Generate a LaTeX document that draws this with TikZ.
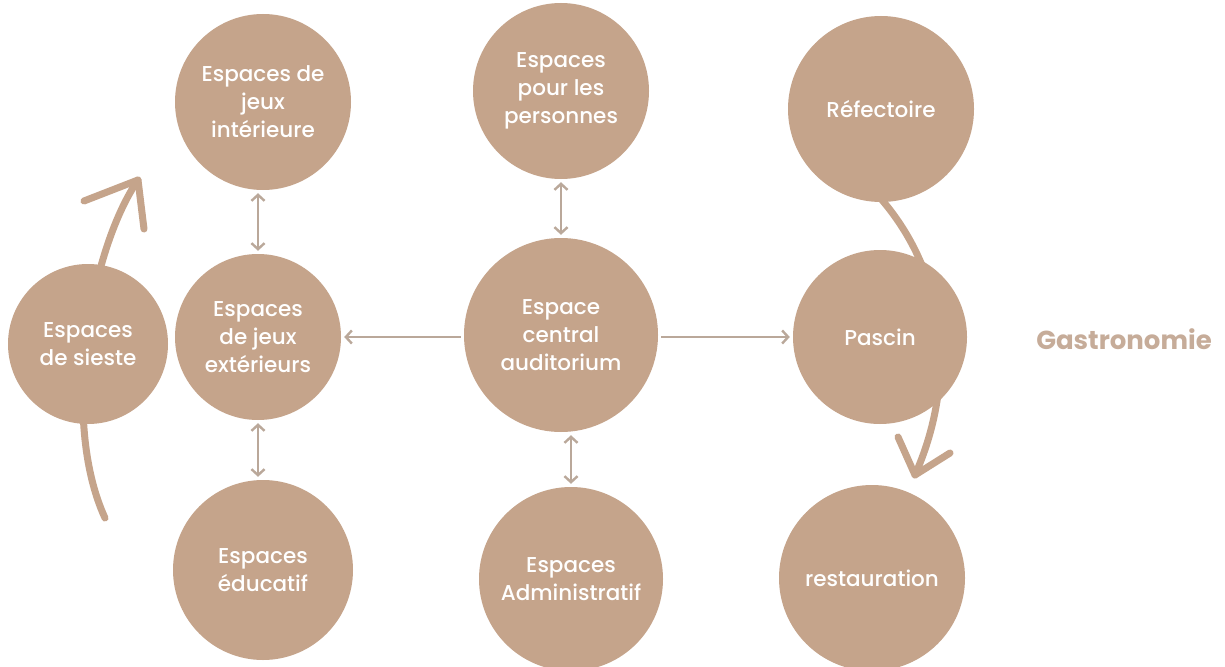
\documentclass[tikz,border=0pt]{standalone}
\usepackage{fontspec}
\setmainfont{Poppins}
\newfontfamily\medfont{Poppins Medium}
\usetikzlibrary{arrows.meta}
\definecolor{tan}{RGB}{197,164,139}
\definecolor{linkgray}{RGB}{186,168,154}
\definecolor{gastro}{RGB}{198,172,153}
\begin{document}
\begin{tikzpicture}[x=1pt,y=-1pt,
  room/.style={circle,fill=tan,inner sep=0pt,text=white,align=center,
    font=\medfont\fontsize{21.5}{28}\selectfont},
  link/.style={draw=linkgray,line width=2.8pt,-{Straight Barb[length=6pt,width=13pt,line width=2.4pt]},shorten >=3pt,shorten <=3pt},
  dlink/.style={link,{Straight Barb[length=6pt,width=13pt,line width=2.4pt]}-{Straight Barb[length=6pt,width=13pt,line width=2.4pt]}},
  swoop/.style={draw=tan,line width=7pt,line cap=round,line join=round}]
\fill[white] (0,0) rectangle (1225,666);
\useasboundingbox (0,0) rectangle (1225,666);

% hand-drawn flow arrows, kept behind the circles
\coordinate (sA) at (105,518);
\coordinate (sB) at (138,180);
\coordinate (sBl) at (84,201);
\coordinate (sBr) at (144,229);
\draw[swoop] (sA) .. controls (60,420) and (90,250) .. (sB);
\draw[swoop] (sBl) -- (sB) -- (sBr);
\coordinate (rA) at (882,200);
\coordinate (rB) at (915,475);
\coordinate (rBl) at (898,437);
\coordinate (rBr) at (950,453);
\draw[swoop] (rA) .. controls (950,280) and (955,385) .. (rB);
\draw[swoop] (rBl) -- (rB) -- (rBr);

% spaces
\node[room,minimum size=176pt] (jint) at (263,102) {Espaces de\\jeux\\intérieure};
\node[room,minimum size=176pt] (pers) at (561,91) {Espaces\\pour les\\personnes};
\node[room,minimum size=186pt] (refe) at (881,109) {Réfectoire};
\node[room,minimum size=160pt] (sies) at (88,344) {Espaces\\de sieste};
\node[room,minimum size=166pt] (jext) at (258,337) {Espaces\\de jeux\\extérieurs};
\node[room,minimum size=194pt] (cent) at (561,335) {Espace\\central\\auditorium};
\node[room,minimum size=174pt] (pasc) at (880,337) {Pascin};
\node[room,minimum size=180pt] (educ) at (263,570) {Espaces\\éducatif};
\node[room,minimum size=184pt] (admi) at (571,579) {Espaces\\Administratif};
\node[room,minimum size=186pt] (rest) at (872,578) {restauration};
\node[text=gastro,font=\fontsize{26}{30}\selectfont\bfseries] (gast) at (1124,339) {Gastronomie};

% links between spaces
\draw[dlink] (jint.south -| jext.north) -- (jext.north);
\draw[dlink] (pers.south) -- (cent.north);
\draw[dlink] (jext.south) -- (educ.north -| jext.south);
\draw[dlink] (admi.north |- cent.south) -- (admi.north);
\draw[link] (cent.west |- jext.east) -- (jext.east);
\draw[link] (cent.east |- pasc.west) -- (pasc.west);
\end{tikzpicture}
\end{document}
